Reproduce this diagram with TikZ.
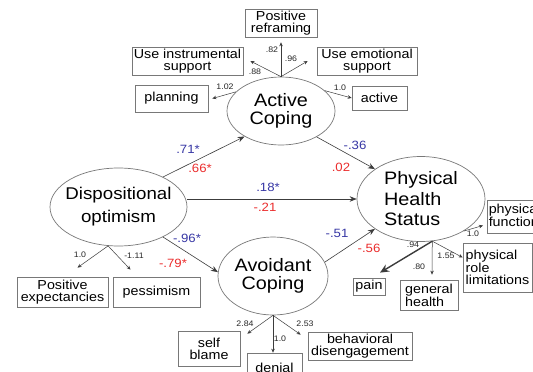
\documentclass[tikz,border=0pt]{standalone}
\usepackage{fontspec}
\setmainfont{Liberation Sans}[FakeStretch=1.1]
\usetikzlibrary{arrows.meta,shapes.geometric}
\definecolor{cblue}{RGB}{55,55,165}
\definecolor{cred}{RGB}{235,45,45}
\definecolor{lgray}{RGB}{60,60,60}
\definecolor{bgray}{RGB}{120,120,120}
\begin{document}
\begin{tikzpicture}[x=1pt,y=-1pt,
  lat/.style={ellipse,draw=bgray,line width=0.7pt,inner sep=0pt},
  lattxt/.style={font=\fontsize{18}{18}\selectfont,align=center,inner sep=0pt},
  ind/.style={rectangle,draw=bgray,line width=0.7pt,inner sep=0pt,font=\fontsize{13}{12}\selectfont,align=center},
  mainarrow/.style={draw=lgray,line width=0.6pt,-{Stealth[length=7pt,width=5.5pt]}},
  ldarrow/.style={draw=lgray,line width=0.5pt,-{Stealth[length=4pt,width=3.5pt]}},
  coef/.style={font=\fontsize{12}{12}\selectfont,inner sep=0pt},
  sm/.style={font=\fontsize{8}{8}\selectfont,inner sep=0pt,text=black!85}]
\useasboundingbox (0,0) rectangle (533,372);
\fill[white] (0,0) rectangle (533,372);
\clip (0,0) rectangle (533,372);

% latent variables
\node[lat,minimum width=108pt,minimum height=68pt,label={[lattxt]center:Active\\Coping}] (ac) at (281,111) {};
\node[lat,minimum width=137pt,minimum height=78pt,label={[lattxt,font=\fontsize{17}{23}\selectfont]center:Dispositional\\optimism}] (do) at (118.5,207) {};
\node[lat,minimum width=128pt,minimum height=85pt,label={[lattxt,align=left,font=\fontsize{18}{20.5}\selectfont]center:Physical\\Health\\Status}] (phs) at (421,199) {};
\node[lat,minimum width=110pt,minimum height=78pt,label={[lattxt]center:Avoidant\\Coping}] (avc) at (273,276) {};

% indicators
\node[ind,minimum width=72pt,minimum height=28pt] (pr) at (281,23) {Positive\\reframing};
\node[ind,minimum width=111pt,minimum height=28pt] (ui) at (187.5,61) {Use instrumental\\support};
\node[ind,minimum width=100pt,minimum height=28pt] (ue) at (367,61) {Use emotional\\support};
\node[ind,minimum width=73pt,minimum height=27pt] (pl) at (171.5,98.5) {planning};
\node[ind,minimum width=55pt,minimum height=24pt] (act) at (379.5,98) {active};
\node[ind,minimum width=91pt,minimum height=30pt] (pe) at (62.5,292) {Positive\\expectancies};
\node[ind,minimum width=87pt,minimum height=30pt] (pes) at (156.5,292) {pessimism};
\node[ind,align=left,anchor=west,minimum width=72pt,minimum height=33pt] (pf) at (487,216.5) {physical\\functioning};
\node[ind,align=left,minimum width=69pt,minimum height=49pt] (prl) at (497.5,267.5) {physical\\role\\limitations};
\node[ind,minimum width=32pt,minimum height=17pt] (pain) at (369,286.5) {pain};
\node[ind,align=left,minimum width=58pt,minimum height=30pt] (gh) at (429,295) {general\\health};
\node[ind,minimum width=62pt,minimum height=35pt] (sb) at (209,348.5) {self\\blame};
\node[ind,minimum width=55pt,minimum height=30pt] (den) at (274.5,368) {denial};
\node[ind,minimum width=104pt,minimum height=28pt] (bd) at (360,346) {behavioral\\disengagement};

% structural paths
\draw[mainarrow] (do.34) -- (ac.215);
\draw[mainarrow] (do.east |- phs.west) -- (phs.west);
\draw[mainarrow] (do.-34) -- (avc.176);
\draw[mainarrow] (ac.-36) -- (phs.147);
\draw[mainarrow] (avc.15) -- (phs.213);

% loadings: active coping
\draw[ldarrow] (ac.north) -- ([yshift=-5pt]pr.south);
\draw[ldarrow] (ac.north) -- ([xshift=7pt]ui.east);
\draw[ldarrow] (ac.north) -- ([xshift=-9pt]ue.west);
\draw[ldarrow] (ac.157) -- ([xshift=4pt]pl.east);
\draw[ldarrow] (ac.25) -- (act.west);

% loadings: optimism
\draw[ldarrow] (do.255) -- ([xshift=15pt,yshift=9pt]pe.north);
\draw[ldarrow] (do.255) -- ([xshift=-26pt,yshift=7pt]pes.north);

% loadings: physical health
\draw[draw=lgray,line width=1.4pt,-{Stealth[length=9pt,width=8pt]}] (phs.285) -- ([xshift=11pt,yshift=5pt]pain.north);
\draw[ldarrow] (phs.285) -- ([xshift=3pt,yshift=5pt]gh.north);
\draw[ldarrow] (phs.285) -- ([yshift=10pt]prl.west);
\draw[ldarrow] (phs.-37) -- ([xshift=-4pt,yshift=-9pt]pf.west);

% loadings: avoidant coping
\draw[ldarrow] (avc.south) -- ([xshift=7pt,yshift=-3pt]sb.north east);
\draw[ldarrow] (avc.south) -- (avc.south |- den.north);
\draw[ldarrow] (avc.south) -- ([xshift=-7pt,yshift=-3pt]bd.north west);

% coefficients
\node[coef,text=cblue] (c1) at (188,149) {.71*};
\node[coef,text=cred] (c2) at (200,168) {.66*};
\node[coef,text=cblue] (c3) at (268,187) {.18*};
\node[coef,text=cred] (c4) at (265,207) {-.21};
\node[coef,text=cblue] (c5) at (355,145) {-.36};
\node[coef,text=cred] (c6) at (341,167) {.02};
\node[coef,text=cblue] (c7) at (187,238) {-.96*};
\node[coef,text=cred] (c8) at (173,263) {-.79*};
\node[coef,text=cblue] (c9) at (337,233) {-.51};
\node[coef,text=cred] (c10) at (369,248) {-.56};

% loading values
\node[sm] (s1) at (225,87) {1.02};
\node[sm] (s2) at (255,72) {.88};
\node[sm] (s3) at (272,50) {.82};
\node[sm] (s4) at (291,59) {.96};
\node[sm] (s5) at (340,88) {1.0};
\node[sm] (s6) at (80,255) {1.0};
\node[sm] (s7) at (134,256) {-1.11};
\node[sm] (s8) at (473,234) {1.0};
\node[sm] (s9) at (413,245) {.94};
\node[sm] (s10) at (446,256) {1.55};
\node[sm] (s11) at (419,267) {.80};
\node[sm] (s12) at (245,324) {2.84};
\node[sm] (s13) at (280,339) {1.0};
\node[sm] (s14) at (305,324) {2.53};
\end{tikzpicture}
\end{document}
